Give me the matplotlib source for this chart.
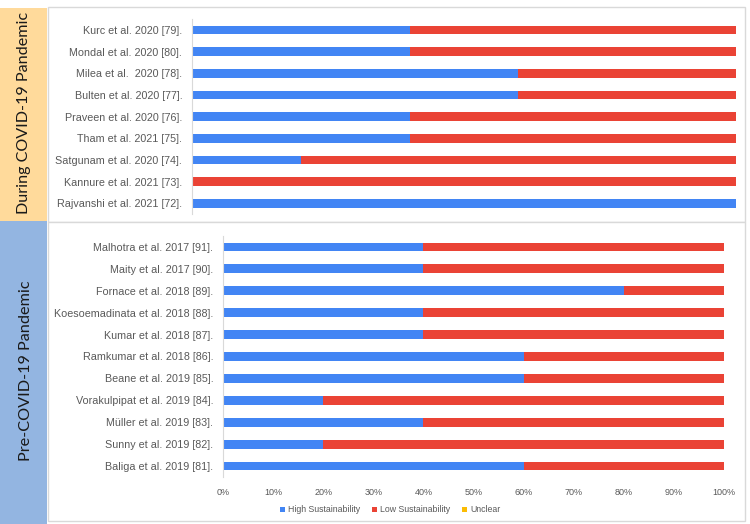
import matplotlib.pyplot as plt
from matplotlib.patches import Rectangle

# data (share of studies, %)
during_labels = ['Rajvanshi et al. 2021 [72].', 'Kannure et al. 2021 [73].',
                 'Satgunam et al. 2020 [74].', 'Tham et al. 2021 [75].',
                 'Praveen et al. 2020 [76].', 'Bulten et al. 2020 [77].',
                 'Milea et al.  2020 [78].', 'Mondal et al. 2020 [80].',
                 'Kurc et al. 2020 [79].']
during_high = [100, 0, 20, 40, 40, 60, 60, 40, 40]
during_low = [0, 100, 80, 60, 60, 40, 40, 60, 60]
during_unclear = [0, 0, 0, 0, 0, 0, 0, 0, 0]

pre_labels = ['Baliga et al. 2019 [81].', 'Sunny et al. 2019 [82].',
              'Müller et al. 2019 [83].', 'Vorakulpipat et al. 2019 [84].',
              'Beane et al. 2019 [85].', 'Ramkumar et al. 2018 [86].',
              'Kumar et al. 2018 [87].', 'Koesoemadinata et al. 2018 [88].',
              'Fornace et al. 2018 [89].', 'Maity et al. 2017 [90].',
              'Malhotra et al. 2017 [91].']
pre_high = [60, 20, 40, 20, 60, 60, 40, 40, 80, 40, 40]
pre_low = [40, 80, 60, 80, 40, 40, 60, 60, 20, 60, 60]
pre_unclear = [0, 0, 0, 0, 0, 0, 0, 0, 0, 0, 0]

xticks = [0, 10, 20, 30, 40, 50, 60, 70, 80, 90, 100]

BLUE = '#4285F4'
RED = '#EA4335'
YELLOW = '#FBBC04'
TEXT = '#595959'
W, H = 750, 524

plt.rcParams['font.family'] = ['Liberation Sans', 'DejaVu Sans']
fig = plt.figure(figsize=(W / 100, H / 100), dpi=100)


def box(x0, y0, x1, y1, **kw):
    # pixel coords from top-left
    fig.patches.append(Rectangle((x0 / W, 1 - y1 / H), (x1 - x0) / W, (y1 - y0) / H,
                                 transform=fig.transFigure, zorder=-5, **kw))


def axes(x0, y0, x1, y1):
    return fig.add_axes([x0 / W, 1 - y1 / H, (x1 - x0) / W, (y1 - y0) / H])


# frames and side labels
box(48, 7, 745, 222, facecolor='white', edgecolor='#D9D9D9', lw=1)
box(48, 222, 745, 521, facecolor='white', edgecolor='#D9D9D9', lw=1)
box(0, 8, 47, 221, facecolor='#FFDA9B', edgecolor='none')
box(0, 221, 47, 524, facecolor='#93B5E1', edgecolor='none')
fig.text(24 / W, 1 - 113 / H, 'During COVID-19 Pandemic', rotation=90,
         ha='center', va='center', fontsize=11.6, family=['Lato', 'DejaVu Sans'], color='#1a1a1a')
fig.text(26 / W, 1 - 371 / H, 'Pre-COVID-19 Pandemic', rotation=90,
         ha='center', va='center', fontsize=11.7, family=['Lato', 'DejaVu Sans'], color='#1a1a1a')


def draw(ax, labels, high, low, unclear):
    y = range(len(labels))
    ax.barh(y, high, height=0.4, color=BLUE, label='High Sustainability')
    ax.barh(y, low, left=high, height=0.4, color=RED, label='Low Sustainability')
    left2 = [h + l for h, l in zip(high, low)]
    ax.barh(y, unclear, left=left2, height=0.4, color=YELLOW, label='Unclear')
    ax.set_yticks(list(y))
    ax.set_yticklabels(labels, fontsize=7.75, color=TEXT)
    ax.set_ylim(-0.5, len(labels) - 0.5)
    ax.set_xlim(0, 100)
    ax.tick_params(axis='both', length=0, pad=7)
    for s in ['top', 'right', 'bottom']:
        ax.spines[s].set_visible(False)
    ax.spines['left'].set_color('#D9D9D9')
    ax.patch.set_alpha(0)


ax1 = axes(192, 19, 736, 214)
draw(ax1, during_labels, during_high, during_low, during_unclear)
ax1.set_xticks([])

ax2 = axes(223, 236, 724, 477)
draw(ax2, pre_labels, pre_high, pre_low, pre_unclear)
ax2.set_xticks(xticks)
ax2.set_xticklabels([f'{t}%' for t in xticks], fontsize=6.5, color=TEXT)
ax2.tick_params(axis='x', pad=8)
ax2.legend(loc='center', bbox_to_anchor=(390 / W, 1 - 510 / H), bbox_transform=fig.transFigure,
           ncol=3, frameon=False, fontsize=6.3, labelcolor=TEXT, handlelength=0.6,
           handleheight=0.6, handletextpad=0.3, columnspacing=1.4)

fig.savefig('out.png', dpi=100)
